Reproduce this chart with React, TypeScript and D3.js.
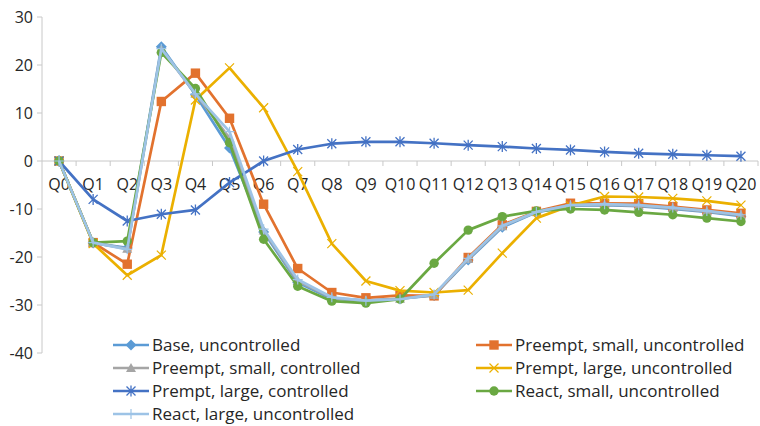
import React from "react";
import * as d3 from "d3";

const quarters = Array.from({ length: 21 }, (_, i) => `Q${i}`);

const baseUncontrolled = [0, -17.1, -18.1, 23.8, 13.8, 2.7, -14.8, -25.3, -28.7, -29.1, -28.7, -28.0, -20.6, -13.8, -10.7, -9.3, -9.2, -9.4, -10.0, -10.6, -11.5];
const preemptSmallUncontrolled = [0, -17.0, -21.5, 12.4, 18.3, 8.9, -9.0, -22.4, -27.4, -28.5, -28.0, -28.1, -20.1, -13.3, -10.5, -8.8, -8.8, -8.9, -9.5, -10.2, -10.9];
const preemptSmallControlled = [0, -17.0, -18.3, 23.3, 14.0, 4.8, -14.5, -25.0, -28.5, -29.1, -28.7, -27.9, -20.4, -13.6, -10.6, -9.2, -9.1, -9.3, -9.8, -10.5, -11.3];
const premptLargeUncontrolled = [0, -17.2, -23.8, -19.6, 12.7, 19.4, 11.1, -2.2, -17.2, -25.0, -27.0, -27.4, -26.9, -19.2, -11.9, -9.3, -7.4, -7.5, -7.8, -8.3, -9.2];
const premptLargeControlled = [0, -8.0, -12.5, -11.1, -10.2, -4.5, 0, 2.4, 3.6, 4.0, 4.0, 3.7, 3.3, 3.0, 2.6, 2.3, 1.9, 1.6, 1.4, 1.2, 1.0];
const reactSmallUncontrolled = [0, -17.0, -16.7, 22.6, 15.1, 3.8, -16.3, -26.1, -29.2, -29.6, -28.8, -21.3, -14.4, -11.6, -10.4, -10.0, -10.2, -10.7, -11.2, -11.9, -12.6];
const reactLargeUncontrolled = [0, -17.0, -18.4, 23.4, 14.0, 6.1, -14.2, -24.7, -28.4, -29.1, -28.8, -27.8, -20.3, -13.5, -10.6, -9.2, -9.0, -9.2, -9.7, -10.4, -11.2];

const yTicks = [30, 20, 10, 0, -10, -20, -30, -40];

type MarkerKind = "diamond" | "square" | "triangle" | "x" | "star" | "circle" | "plus";

const series: { name: string; values: number[]; color: string; marker: MarkerKind }[] = [
  { name: "Base, uncontrolled", values: baseUncontrolled, color: "#5B9BD5", marker: "diamond" },
  { name: "Preempt, small, uncontrolled", values: preemptSmallUncontrolled, color: "#E2722E", marker: "square" },
  { name: "Preempt, small, controlled", values: preemptSmallControlled, color: "#A5A5A5", marker: "triangle" },
  { name: "Prempt, large, uncontrolled", values: premptLargeUncontrolled, color: "#EBB000", marker: "x" },
  { name: "Prempt, large, controlled", values: premptLargeControlled, color: "#4472C4", marker: "star" },
  { name: "React, small, uncontrolled", values: reactSmallUncontrolled, color: "#6AA842", marker: "circle" },
  { name: "React, large, uncontrolled", values: reactLargeUncontrolled, color: "#9DC3E6", marker: "plus" },
];

const W = 760;
const H = 426;
const FONT = "'Open Sans', 'Liberation Sans', sans-serif";
const AXIS_FS = 16;
const LEGEND_FS = 17;

function Marker({ kind, x, y, color }: { kind: MarkerKind; x: number; y: number; color: string }) {
  switch (kind) {
    case "diamond":
      return <path d={`M${x},${y - 5.5}L${x + 5.5},${y}L${x},${y + 5.5}L${x - 5.5},${y}Z`} fill={color} />;
    case "square":
      return <rect x={x - 4.7} y={y - 4.7} width={9.4} height={9.4} fill={color} />;
    case "triangle":
      return <path d={`M${x},${y - 5}L${x + 5},${y + 4}L${x - 5},${y + 4}Z`} fill={color} />;
    case "x":
      return (
        <path d={`M${x - 4.5},${y - 4.5}L${x + 4.5},${y + 4.5}M${x + 4.5},${y - 4.5}L${x - 4.5},${y + 4.5}`} stroke={color} strokeWidth={1.2} />
      );
    case "star":
      return (
        <path
          d={`M${x - 4.5},${y - 4.5}L${x + 4.5},${y + 4.5}M${x + 4.5},${y - 4.5}L${x - 4.5},${y + 4.5}M${x},${y - 5.5}L${x},${y + 5.5}`}
          stroke={color}
          strokeWidth={1.3}
        />
      );
    case "circle":
      return <circle cx={x} cy={y} r={4.7} fill={color} />;
    case "plus":
      return <path d={`M${x - 5},${y}L${x + 5},${y}M${x},${y - 5}L${x},${y + 5}`} stroke={color} strokeWidth={1.2} />;
  }
}

export default function App() {
  const x = d3.scaleBand<string>().domain(quarters).range([42, 758]).padding(0);
  const y = d3.scaleLinear().domain([-40, 30]).range([353, 17]);
  const cx = (q: string) => (x(q) ?? 0) + x.bandwidth() / 2;

  const line = d3
    .line<number>()
    .x((_, i) => cx(quarters[i]))
    .y((d) => y(d));

  const axisColor = "#C8C8C8";
  const y0 = y(0);

  const legendLeft = [0, 2, 4, 6];
  const legendRight = [1, 3, 5];
  const legendRowY = (r: number) => 345 + r * 23;

  return (
    <svg width={W} height={H} style={{ position: "absolute", left: 0, top: 0, background: "#fff" }} fontFamily={FONT}>
      {/* y axis */}
      <line x1={42} x2={42} y1={y(30)} y2={y(-40)} stroke={axisColor} strokeWidth={1} />
      {yTicks.map((t) => (
        <g key={t}>
          <line x1={37} x2={42} y1={y(t)} y2={y(t)} stroke={axisColor} />
          <text x={33} y={y(t)} dy="0.35em" textAnchor="end" fontSize={AXIS_FS} fill="#262626">
            {t}
          </text>
        </g>
      ))}
      {/* x axis along zero */}
      <line x1={42} x2={758} y1={y0} y2={y0} stroke={axisColor} />
      {quarters.map((q) => (
        <line key={`t${q}`} x1={(x(q) ?? 0) + x.bandwidth()} x2={(x(q) ?? 0) + x.bandwidth()} y1={y0} y2={y0 + 5} stroke={axisColor} />
      ))}
      {quarters.map((q) => (
        <text key={`l${q}`} x={cx(q)} y={y0 + 29} textAnchor="middle" fontSize={AXIS_FS} fill="#262626">
          {q}
        </text>
      ))}
      {/* series */}
      {series.map((s) => (
        <g key={s.name}>
          <path d={line(s.values) ?? ""} fill="none" stroke={s.color} strokeWidth={2.7} strokeLinejoin="round" />
          {s.values.map((v, i) => (
            <Marker key={i} kind={s.marker} x={cx(quarters[i])} y={y(v)} color={s.color} />
          ))}
        </g>
      ))}
      {/* legend */}
      {[
        ...legendLeft.map((idx, r) => ({ idx, lx: 113, ly: legendRowY(r) })),
        ...legendRight.map((idx, r) => ({ idx, lx: 476, ly: legendRowY(r) })),
      ].map(({ idx, lx, ly }) => {
        const s = series[idx];
        return (
          <g key={`lg${idx}`}>
            <line x1={lx} x2={lx + 36} y1={ly} y2={ly} stroke={s.color} strokeWidth={2.7} />
            <Marker kind={s.marker} x={lx + 18} y={ly} color={s.color} />
            <text x={lx + 39} y={ly} dy="0.33em" fontSize={LEGEND_FS} fill="#262626">
              {s.name}
            </text>
          </g>
        );
      })}
    </svg>
  );
}
